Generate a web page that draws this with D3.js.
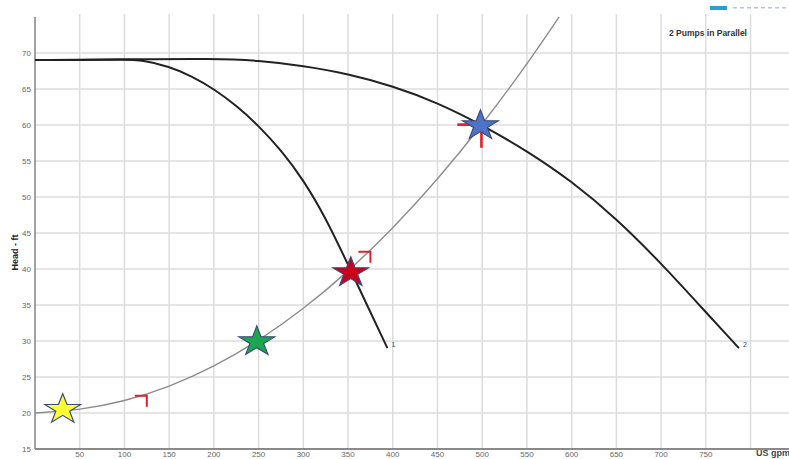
<!DOCTYPE html>
<html><head><meta charset="utf-8">
<script src="https://cdn.jsdelivr.net/npm/d3@7"></script>
<style>body{margin:0;background:#fff;} svg{display:block;font-family:"Liberation Sans",Arial,sans-serif;}</style>
</head><body>
<svg id="c" width="789" height="459"></svg>
<script>
// ---- data ----
const xTicks = [50,100,150,200,250,300,350,400,450,500,550,600,650,700,750];
const xGrid = [50,100,150,200,250,300,350,400,450,500,550,600,650,700,750,800];
const yTicks = [15,20,25,30,35,40,45,50,55,60,65,70];
const pump1Q = [0,50,100,120,150,175,200,225,250,275,300,325,350,375,394];
const pump1H = [69,69,69.05,69.0,68.1,66.8,65.0,62.7,59.9,56.5,52.4,47.1,40.6,34.0,29];
const pump2Q = [0,100,200,250,300,350,400,450,500,550,600,650,700,750,787];
const pump2H = [69,69.1,69.2,68.95,68.2,67.1,65.4,63.1,60.0,56.4,52.2,47.0,40.8,34.0,29];
const sysQ = [0,50,100,150,200,250,300,350,400,450,500,550,586];
const sysH = [20,20.4,21.6,23.6,26.4,30,34.4,39.6,45.6,52.4,60,68.4,75];
const starQ = [31,248,353,498];
const starH = [20.5,29.9,39.5,59.9];
const starColors = ["#ffff33","#1ea552","#c8001c","#4d72c8"];
const arrowQ = [125,375];
const arrowH = [22.4,42.4];
const curveLabels = ["1","2"];
const title = "2 Pumps in Parallel";

// ---- scales ----
const svg = d3.select("#c");
const x = d3.scaleLinear().domain([0,843]).range([35,789]);
const y = d3.scaleLinear().domain([15,75.4]).range([449,14]);

// grid
svg.append("g").selectAll("line").data(xGrid).join("line")
  .attr("x1",d=>x(d)).attr("x2",d=>x(d)).attr("y1",y(75.4)).attr("y2",y(15))
  .attr("stroke","#dcdcdc").attr("stroke-width",1.5);
svg.append("g").selectAll("line").data(yTicks.slice(1)).join("line")
  .attr("x1",x(0)).attr("x2",789).attr("y1",d=>y(d)).attr("y2",d=>y(d))
  .attr("stroke","#dcdcdc").attr("stroke-width",1.5);

// axes
svg.append("line").attr("x1",x(0)).attr("x2",x(0)).attr("y1",y(75)).attr("y2",y(15))
  .attr("stroke","#8a8a8a").attr("stroke-width",1.6);
svg.append("line").attr("x1",x(0)).attr("x2",789).attr("y1",y(15)).attr("y2",y(15))
  .attr("stroke","#8a8a8a").attr("stroke-width",2);

svg.append("g").selectAll("text").data(xTicks).join("text")
  .attr("x",d=>x(d)).attr("y",y(15)+8).attr("text-anchor","middle")
  .attr("font-size",8).attr("fill","#666").text(d=>d);
svg.append("g").selectAll("text").data(yTicks).join("text")
  .attr("x",x(0)-4).attr("y",d=>y(d)+3).attr("text-anchor","end")
  .attr("font-size",8).attr("fill","#666").text(d=>d);

svg.append("text").attr("x",756).attr("y",456).attr("font-size",9).attr("font-weight","bold")
  .attr("fill","#444").text("US gpm");
svg.append("text").attr("transform","translate(18,"+y(42.3)+") rotate(-90)")
  .attr("text-anchor","middle").attr("font-size",9).attr("font-weight","bold").attr("fill","#222")
  .text("Head - ft");

svg.append("text").attr("x",708).attr("y",36).attr("text-anchor","middle")
  .attr("font-size",8.5).attr("font-weight","bold").attr("fill","#333").text(title);
// cut-off header element at top right (only lower edge visible)
svg.append("rect").attr("x",710).attr("y",6).attr("width",17).attr("height",4).attr("fill","#2a9fd0");
svg.append("g").selectAll("rect").data(d3.range(8)).join("rect")
  .attr("x",d=>733+d*7).attr("y",7).attr("width",4).attr("height",1.5).attr("fill","#b8c6d4");

// curves
const line = d3.line().x(d=>x(d[0])).y(d=>y(d[1])).curve(d3.curveBasis);
const p1 = pump1Q.map((q,i)=>[q,pump1H[i]]);
const p2 = pump2Q.map((q,i)=>[q,pump2H[i]]);
const sc = sysQ.map((q,i)=>[q,sysH[i]]);

svg.append("path").datum(sc).attr("d",line).attr("fill","none")
  .attr("stroke","#8c8c8c").attr("stroke-width",1.4);
svg.append("path").datum(p2).attr("d",line).attr("fill","none")
  .attr("stroke","#222").attr("stroke-width",2);
svg.append("path").datum(p1).attr("d",line).attr("fill","none")
  .attr("stroke","#222").attr("stroke-width",2);

[p1,p2].forEach((p,i)=>{
  const e = p[p.length-1];
  svg.append("text").attr("x",x(e[0])+4).attr("y",y(e[1])-1).attr("font-size",7)
    .attr("fill","#444").text(curveLabels[i]);
});

// red direction markers
arrowQ.forEach((q,i)=>{
  const cx = x(q), cy = y(arrowH[i]);
  svg.append("path").attr("d",`M${cx-12},${cy}L${cx},${cy}L${cx},${cy+11}`)
    .attr("fill","none").attr("stroke","#e0202a").attr("stroke-width",2);
});
// red cross behind blue star
{
  const cx = x(starQ[3]), cy = y(starH[3]);
  svg.append("path").attr("d",`M${cx-23},${cy-1}L${cx},${cy-1}M${cx+1},${cy}L${cx+1},${cy+22}`)
    .attr("fill","none").attr("stroke","#e8202a").attr("stroke-width",2.6);
}

// stars
const star = d3.symbol().type(d3.symbolStar).size(280);
svg.append("g").selectAll("path").data(starQ).join("path")
  .attr("d",star)
  .attr("transform",(d,i)=>`translate(${x(d)},${y(starH[i])}) scale(1.2,1)`)
  .attr("fill",(d,i)=>starColors[i]).attr("stroke","#3b4a78").attr("stroke-width",1);
</script>
</body></html>
